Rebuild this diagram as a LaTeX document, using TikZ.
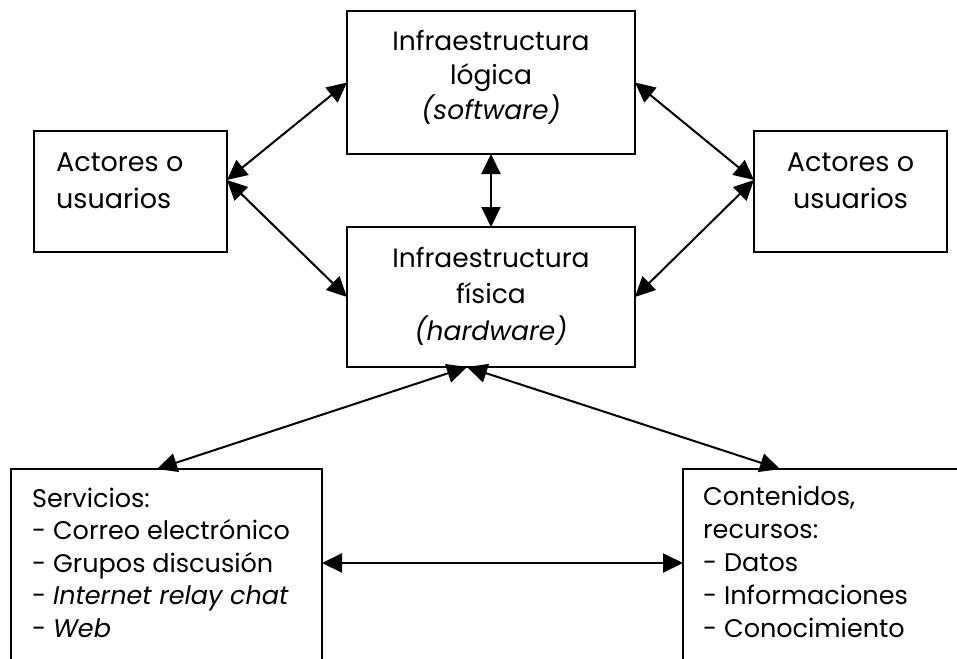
\documentclass[tikz,border=0pt]{standalone}
\usepackage{fontspec}
\setmainfont{Poppins}
\usetikzlibrary{arrows.meta}
\begin{document}
\begin{tikzpicture}[x=1pt,y=-1pt,
  box/.style={draw, line width=2pt, inner sep=0pt, outer sep=0pt},
  arr/.style={{Triangle[length=20pt,width=19pt]}-{Triangle[length=20pt,width=19pt]}, line width=2pt},
  txt/.style={inner sep=0pt},
]
\useasboundingbox (0,0) rectangle (957,658);
\clip (0,0) rectangle (957,658);

% boxes
\node[box, minimum width=288, minimum height=143] (log) at (491,82.5) {};
\node[box, minimum width=288, minimum height=140] (phy) at (491,297) {};
\node[box, minimum width=193, minimum height=121] (actL) at (130.5,191.5) {};
\node[box, minimum width=193, minimum height=121] (actR) at (850.5,191.5) {};
\node[box, minimum width=311, minimum height=260, anchor=north west] (serv) at (11,469) {};
\node[box, minimum width=400, minimum height=260, anchor=north west] (cont) at (683,469) {};

% texts (anchored on the baseline of their last line)
\node[txt, anchor=base, align=center, font=\fontsize{26.5}{35}\selectfont] (logT) at (491,120)
  {Infraestructura\\lógica\\\textit{(software)}};
\node[txt, anchor=base, align=center, font=\fontsize{26.5}{36.5}\selectfont] (phyT) at (491,340)
  {Infraestructura\\física\\\textit{(hardware)}};
\node[txt, anchor=base west, align=left, font=\fontsize{27}{37}\selectfont] (actLT) at (56,208)
  {Actores o\\usuarios};
\node[txt, anchor=base, align=center, font=\fontsize{27}{37}\selectfont] (actRT) at (850.5,208)
  {Actores o\\usuarios};
\node[txt, anchor=base west, align=left, font=\fontsize{25.5}{32.5}\selectfont] (servT) at (32,637)
  {Servicios:\\- Correo electrónico\\- Grupos discusión\\- \textit{Internet relay chat}\\- \textit{Web}};
\node[txt, anchor=base west, align=left, font=\fontsize{25.5}{33}\selectfont] (contT) at (703,637)
  {Contenidos,\\recursos:\\- Datos\\- Informaciones\\- Conocimiento};

% connectors
\draw[arr] ([yshift=11.5pt]actL.east) -- (log.west);
\draw[arr] ([yshift=11.5pt]actL.east) -- (phy.west);
\draw[arr] (log.east) -- ([yshift=11.5pt]actR.west);
\draw[arr] (phy.east) -- ([yshift=11.5pt]actR.west);
\draw[arr] (log.south) -- (phy.north);
\draw[arr] ([xshift=-24pt]phy.south) -- ([xshift=146pt]serv.north west);
\draw[arr] ([xshift=-24pt]phy.south) -- ([xshift=97pt]cont.north west);
\draw[arr] ([yshift=36pt]serv.east) -- ([yshift=36pt]cont.west);
\end{tikzpicture}
\end{document}
